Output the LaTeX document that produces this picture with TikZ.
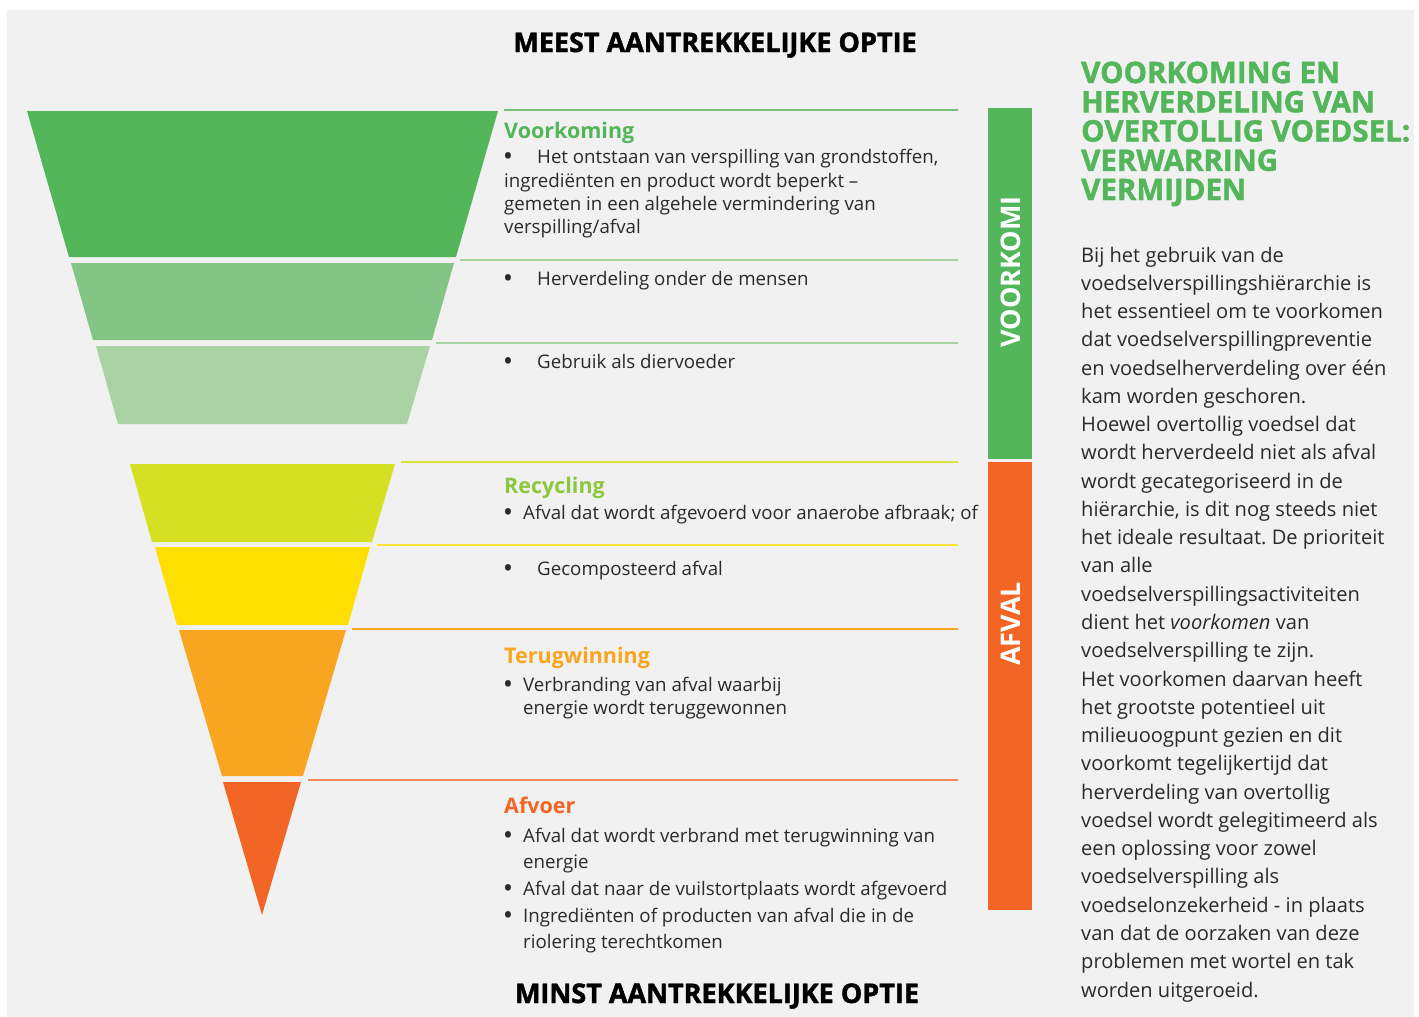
\documentclass[tikz,border=0pt]{standalone}
\usepackage{fontspec}
\setmainfont{Open Sans}
\newfontfamily\heavy{Open Sans}[BoldFeatures={FakeBold=1.6}]
\definecolor{bgc}{HTML}{F0F1F0}
\definecolor{txtc}{HTML}{2A2A2A}
\definecolor{gA}{HTML}{53B65B}
\definecolor{gB}{HTML}{84C484}
\definecolor{gC}{HTML}{AAD3A3}
\definecolor{limeA}{HTML}{D6E023}
\definecolor{yelA}{HTML}{FFDF00}
\definecolor{oraA}{HTML}{F8A51F}
\definecolor{redA}{HTML}{F26524}
\definecolor{lnG1}{HTML}{74C074}
\definecolor{lnG2}{HTML}{A3D39F}
\definecolor{lnLime}{HTML}{DCE23C}
\definecolor{lnYel}{HTML}{FFE335}
\definecolor{lnOra}{HTML}{F8A51F}
\definecolor{lnRed}{HTML}{F3875B}
\definecolor{recC}{HTML}{8DC63F}
\begin{document}
\frenchspacing
\begin{tikzpicture}[x=1pt,y=-1pt,
  body/.style={anchor=base west, inner sep=0pt, text=txtc, font=\fontsize{18.7}{22}\selectfont},
  bul/.style={anchor=base west, inner sep=0pt, text=txtc, font=\fontsize{21}{22}\selectfont\bfseries},
  rbody/.style={anchor=base west, inner sep=0pt, text=txtc, font=\fontsize{20.1}{24}\selectfont},
  label/.style={anchor=base west, inner sep=0pt, font=\fontsize{21.5}{24}\selectfont\bfseries},
  rhead/.style={anchor=base west, inner sep=0pt, text=gA, font=\fontsize{29.5}{30}\heavy\bfseries},
  title/.style={anchor=base, inner sep=0pt, text=black, font=\fontsize{27}{30}\heavy\bfseries},
  barlbl/.style={inner sep=0pt, text=white, rotate=90, font=\fontsize{27}{30}\selectfont\bfseries},
  sep/.style={line width=2pt}
]
\useasboundingbox (0,0) rectangle (1419,1017);
\fill[white] (0,0) rectangle (1419,1017);
\fill[bgc] (7,10) rectangle (1414,1017);

% funnel
\fill[gA] (27,111) -- (498,111) -- (456,257) -- (69,257) -- cycle;
\fill[gB] (71,263) -- (454,263) -- (432,340) -- (93,340) -- cycle;
\fill[gC] (96,346) -- (430,346) -- (407,424) -- (118,424) -- cycle;
\fill[limeA] (130,464) -- (395,464) -- (372,542) -- (152,542) -- cycle;
\fill[yelA] (155,547) -- (370,547) -- (348,625) -- (177,625) -- cycle;
\fill[oraA] (179,630) -- (346,630) -- (303,776) -- (222,776) -- cycle;
\fill[redA] (223,782) -- (301,782) -- (262,915) -- cycle;

% separator lines
\draw[sep, lnG1] (504,109.5) -- (958,109.5);
\draw[sep, lnG2] (460,260) -- (958,260);
\draw[sep, lnG2] (436,343) -- (958,343);
\draw[sep, lnLime] (401,462) -- (958,462);
\draw[sep, lnYel] (377,544.5) -- (958,544.5);
\draw[sep, lnOra] (352,629) -- (958,629);
\draw[sep, lnRed] (308,780) -- (958,780);

% bars
\fill[gA] (988,108) rectangle (1032,459);
\fill[redA] (988,462) rectangle (1032,910);
\node[barlbl] (barV) at (1011,272) {VOORKOMI};
\node[barlbl] (barA) at (1011,624) {AFVAL};

% titles
\node[title] (tTop) at (715,52) {MEEST AANTREKKELIJKE OPTIE};
\node[title] (tBot) at (717,1003) {MINST AANTREKKELIJKE OPTIE};

% section Voorkoming
\node[label, text=gA] (lV) at (504,138) {Voorkoming};
\node[bul] (bV1) at (504,163) {•};
\node[body] (tV1) at (537,163) {Het ontstaan van verspilling van grondstoffen,};
\node[body] (tV2) at (504,187) {ingrediënten en product wordt beperkt –};
\node[body] (tV3) at (504,210) {gemeten in een algehele vermindering van};
\node[body] (tV4) at (504,233) {verspilling/afval};
\node[bul] (bH) at (504,285) {•};
\node[body] (tH) at (537,285) {Herverdeling onder de mensen};
\node[bul] (bG) at (504,368) {•};
\node[body] (tG) at (537,368) {Gebruik als diervoeder};

% Recycling
\node[label, text=recC] (lR) at (504,493) {Recycling};
\node[bul] (bR1) at (504,519) {•};
\node[body] (tR1) at (523,519) {Afval dat wordt afgevoerd voor anaerobe afbraak; of};
\node[bul] (bR2) at (504,575) {•};
\node[body] (tR2) at (537,575) {Gecomposteerd afval};

% Terugwinning
\node[label, text=oraA] (lT) at (504,663) {Terugwinning};
\node[bul] (bT1) at (504,691) {•};
\node[body] (tT1) at (523,691) {Verbranding van afval waarbij};
\node[body] (tT2) at (523,714) {energie wordt teruggewonnen};

% Afvoer
\node[label, text=redA] (lA) at (504,813) {Afvoer};
\node[bul] (bA1) at (504,842) {•};
\node[body] (tA1) at (523,842) {Afval dat wordt verbrand met terugwinning van};
\node[body] (tA2) at (523,868) {energie};
\node[bul] (bA2) at (504,895) {•};
\node[body] (tA3) at (523,895) {Afval dat naar de vuilstortplaats wordt afgevoerd};
\node[bul] (bA3) at (504,922) {•};
\node[body] (tA4) at (523,922) {Ingrediënten of producten van afval die in de};
\node[body] (tA5) at (523,948) {riolering terechtkomen};

% right heading
\node[rhead] (h1) at (1081,83) {VOORKOMING EN};
\node[rhead] (h2) at (1081,112.3) {HERVERDELING VAN};
\node[rhead] (h3) at (1081,141.5) {OVERTOLLIG VOEDSEL:};
\node[rhead] (h4) at (1081,170.8) {VERWARRING};
\node[rhead] (h5) at (1081,200) {VERMIJDEN};

% right body
\foreach \t [count=\i from 0] in {
 {Bij het gebruik van de},
 {voedselverspillingshiërarchie is},
 {het essentieel om te voorkomen},
 {dat voedselverspillingpreventie},
 {en voedselherverdeling over één},
 {kam worden geschoren.},
 {Hoewel overtollig voedsel dat},
 {wordt herverdeeld niet als afval},
 {wordt gecategoriseerd in de},
 {hiërarchie, is dit nog steeds niet},
 {het ideale resultaat. De prioriteit},
 {van alle},
 {voedselverspillingsactiviteiten},
 {dient het \textit{voorkomen} van},
 {voedselverspilling te zijn.},
 {Het voorkomen daarvan heeft},
 {het grootste potentieel uit},
 {milieuoogpunt gezien en dit},
 {voorkomt tegelijkertijd dat},
 {herverdeling van overtollig},
 {voedsel wordt gelegitimeerd als},
 {een oplossing voor zowel},
 {voedselverspilling als},
 {voedselonzekerheid - in plaats},
 {van dat de oorzaken van deze},
 {problemen met wortel en tak},
 {worden uitgeroeid.}}
 {\node[rbody] (r\i) at (1081,262+28.27*\i) {\t};}
\end{tikzpicture}
\end{document}
